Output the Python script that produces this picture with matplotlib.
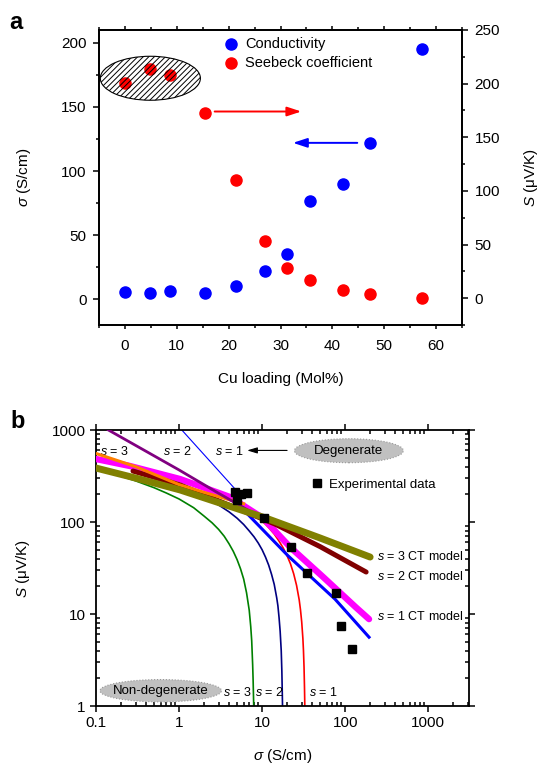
import matplotlib
matplotlib.use('Agg')
import matplotlib.pyplot as plt
from matplotlib.patches import Ellipse
from matplotlib.ticker import MultipleLocator, LogLocator, NullFormatter, FuncFormatter

plt.rcParams['font.family'] = ['Liberation Sans', 'DejaVu Sans']
plt.rcParams['mathtext.fontset'] = 'custom'
plt.rcParams['mathtext.it'] = 'Liberation Sans:italic'
plt.rcParams['mathtext.rm'] = 'Liberation Sans'
plt.rcParams['hatch.linewidth'] = 0.7

# ---- panel a data ----
cu_loading = [0, 4.75, 8.6, 15.4, 21.4, 27, 31.2, 35.6, 42.1, 47.3, 57.3]
conductivity = [5.5, 4.7, 6.5, 5.0, 10.5, 22, 35, 77, 90, 122, 195]
seebeck = [200.5, 214, 208, 173, 110.5, 53, 28, 17, 7.5, 4.2, 0]

# ---- panel b model curves (sigma in S/cm, S in uV/K) ----
nd3_sigma = [0.1, 0.15, 0.2, 0.3, 0.5, 0.7, 1, 1.5, 2, 2.5, 3, 3.5, 4, 4.5, 5,
             5.5, 6, 6.5, 7, 7.3, 7.5, 7.7, 7.8, 7.9, 7.93]
nd3_S = [372, 340, 315, 280, 236, 207, 178, 143, 116, 98, 83, 70, 58, 48, 39,
         31, 24, 17, 11, 7.3, 5.1, 2.8, 1.9, 1.15, 1.0]
nd2_sigma = [2, 3, 4, 5, 6, 7, 8, 9, 10, 11, 12, 13, 14, 15, 15.5, 16, 16.5,
             17, 17.3, 17.5, 17.62]
nd2_S = [188, 153, 129, 110, 94, 80, 69, 59, 50, 41.5, 34, 27, 21, 15, 12.3,
         9.2, 6.5, 4.0, 2.4, 1.4, 1.0]
nd1_sigma = [8, 10, 12, 14, 16, 18, 20, 22, 24, 26, 28, 29, 30, 31, 31.5, 32,
             32.4, 32.7]
nd1_S = [122, 103, 87, 74, 62, 52, 43, 35, 27.4, 20.5, 14.2, 11.1, 8.2, 5.4,
         4.0, 2.65, 1.6, 1.0]

deg1_sigma = [1.08, 2, 3, 4, 5, 6]
deg1_S = [1000, 540, 360, 270, 216, 180]
deg2_sigma = [0.141, 1, 3, 10]
deg2_S = [1000, 368, 205, 110]
deg3_sigma = [0.1, 0.3, 1, 2, 4, 6]
deg3_S = [556, 400, 255, 210, 175, 158]

ct1_sigma = [0.1, 0.257, 1.03, 4.11, 10.3, 21.7, 54.2, 135, 194]
ct1_S = [484, 406, 293, 187, 110, 53.5, 25.3, 11.8, 8.8]
ct1b_sigma = [6, 20.5, 75.6, 194]
ct1b_S = [135, 43, 14.5, 5.6]
ct2_sigma = [0.279, 1.03, 3.58, 14.3, 50, 179]
ct2_S = [358, 253, 159, 95, 54, 28.6]
ct3_sigma = [0.1, 0.32, 1.03, 3.3, 11.2, 50, 200]
ct3_S = [386, 296, 223, 158, 110, 67, 41.6]

fig = plt.figure(figsize=(5.39, 7.65), dpi=100)

# ================= panel a =================
ax = fig.add_axes([0.1837, 0.5752, 0.6735, 0.3856])
ax2 = ax.twinx()

hb = ax.scatter(cu_loading, conductivity, s=64, color='#0000ff', zorder=3,
                label='Conductivity')
hr = ax2.scatter(cu_loading, seebeck, s=64, color='#ff0000', zorder=3,
                 label='Seebeck coefficient')

ax.set_xlim(-5, 65)
ax.set_ylim(-20, 210)
ax2.set_ylim(-25, 250)
ax.xaxis.set_major_locator(MultipleLocator(10))
ax.xaxis.set_minor_locator(MultipleLocator(5))
ax.yaxis.set_major_locator(MultipleLocator(50))
ax.yaxis.set_minor_locator(MultipleLocator(25))
ax2.yaxis.set_major_locator(MultipleLocator(50))
ax2.yaxis.set_minor_locator(MultipleLocator(25))

ax.tick_params(which='both', direction='out', labelsize=11, width=1.1, top=True, pad=5)
ax.tick_params(which='major', length=4)
ax.tick_params(which='minor', length=2.5)
ax.tick_params(axis='x', which='major', top=True, length=3, pad=7)
ax2.tick_params(which='both', direction='out', labelsize=11, width=1.1, pad=5)
ax2.tick_params(which='major', length=4)
ax2.tick_params(which='minor', length=2.5)
for a in (ax, ax2):
    for sp in a.spines.values():
        sp.set_linewidth(1.3)

ax.set_xlabel('Cu loading (Mol%)', fontsize=11, labelpad=14)
ax.set_ylabel(r'$\sigma$ (S/cm)', fontsize=11, labelpad=20)
ax2.set_ylabel(r'$S$ ($\mathrm{\mu}$V/K)', fontsize=11, rotation=90, labelpad=16)

ell = Ellipse((4.9, 205), 19.3, 41, facecolor='none', edgecolor='black',
              hatch='//////', lw=0.8, zorder=4)
ax2.add_patch(ell)

ax2.annotate('', xy=(34, 174), xytext=(17.3, 174),
             arrowprops=dict(arrowstyle='-|>,head_length=0.85,head_width=0.28',
                             color='#ff0000', lw=1.4, shrinkA=0, shrinkB=0))
ax.annotate('', xy=(32.4, 122), xytext=(44.8, 122),
            arrowprops=dict(arrowstyle='-|>,head_length=0.85,head_width=0.28',
                            color='#0000ff', lw=1.4, shrinkA=0, shrinkB=0))

ax2.legend(handles=[hb, hr], loc='upper left', bbox_to_anchor=(0.343, 0.977),
           frameon=False, fontsize=10.5, handlelength=1.0, handletextpad=0.5,
           labelspacing=0.35, borderpad=0, borderaxespad=0, scatterpoints=1)

fig.text(0.03, 0.962, 'a', fontsize=17, fontweight='bold', ha='center', va='baseline')

# ================= panel b =================
bx = fig.add_axes([0.1781, 0.0771, 0.692, 0.3608])
bx.set_xscale('log')
bx.set_yscale('log')

bx.plot(nd3_sigma, nd3_S, color='#008000', lw=1.2, zorder=2)
bx.plot(nd2_sigma, nd2_S, color='#000080', lw=1.2, zorder=2)
bx.plot(nd1_sigma, nd1_S, color='#ff0000', lw=1.2, zorder=2)
bx.plot(deg1_sigma, deg1_S, color='#0000ff', lw=0.8, zorder=2)
bx.plot(ct1b_sigma, ct1b_S, color='#0000ff', lw=2.2, zorder=3)
bx.plot(ct1_sigma, ct1_S, color='#ff00ff', lw=4.6, zorder=4, solid_capstyle='round')
bx.plot(ct2_sigma, ct2_S, color='#800000', lw=3.6, zorder=5, solid_capstyle='round')
bx.plot(deg3_sigma, deg3_S, color='#ff8000', lw=2.2, zorder=5)
bx.plot(deg2_sigma, deg2_S, color='#800080', lw=2.0, zorder=5)
bx.plot(ct3_sigma, ct3_S, color='#808000', lw=5.0, zorder=6, solid_capstyle='round')

sq, = bx.plot(conductivity[:10], seebeck[:10], 's', color='black', ms=6,
              zorder=8, label='Experimental data')

bx.set_xlim(0.1, 3100)
bx.set_ylim(1, 1000)
fmt = FuncFormatter(lambda v, p: '%g' % v)
bx.xaxis.set_major_formatter(fmt)
bx.yaxis.set_major_formatter(fmt)
bx.xaxis.set_major_locator(LogLocator(base=10, numticks=10))
bx.yaxis.set_major_locator(LogLocator(base=10, numticks=10))
bx.xaxis.set_minor_locator(LogLocator(base=10, subs=range(2, 10), numticks=20))
bx.yaxis.set_minor_locator(LogLocator(base=10, subs=range(2, 10), numticks=20))
bx.xaxis.set_minor_formatter(NullFormatter())
bx.yaxis.set_minor_formatter(NullFormatter())
bx.tick_params(which='both', top=True, right=True, labelsize=11, width=1.1)
bx.tick_params(which='major', direction='out', length=4)
bx.tick_params(which='minor', direction='in', length=2.8)
for sp in bx.spines.values():
    sp.set_linewidth(1.3)

bx.set_xlabel(r'$\sigma$ (S/cm)', fontsize=11, labelpad=12)
bx.set_ylabel(r'$S$ ($\mathrm{\mu}$V/K)', fontsize=11, labelpad=14)

fs = 9
bx.text(0.112, 590, '$s$ = 3', fontsize=fs, ha='left', va='center')
bx.text(0.642, 590, '$s$ = 2', fontsize=fs, ha='left', va='center')
bx.text(2.71, 590, '$s$ = 1', fontsize=fs, ha='left', va='center')
bx.annotate('', xy=(6.6, 600), xytext=(20, 600),
            arrowprops=dict(arrowstyle='-|>,head_length=0.6,head_width=0.18',
                            color='black', lw=0.8, shrinkA=0, shrinkB=0))

bx.add_patch(Ellipse((0.678, 0.925), 0.292, 0.087, transform=bx.transAxes,
                     facecolor='#c0c0c0', edgecolor='#999999', ls=':', lw=0.8, zorder=7))
bx.text(0.678, 0.925, 'Degenerate', transform=bx.transAxes, fontsize=9.5,
        ha='center', va='center', zorder=8)
bx.add_patch(Ellipse((0.1735, 0.0554), 0.326, 0.081, transform=bx.transAxes,
                     facecolor='#c0c0c0', edgecolor='#999999', ls=':', lw=0.8, zorder=7))
bx.text(0.1735, 0.0554, 'Non-degenerate', transform=bx.transAxes, fontsize=9.5,
        ha='center', va='center', zorder=8)

bx.text(3.39, 1.4, '$s$ = 3', fontsize=fs, ha='left', va='center')
bx.text(8.26, 1.4, '$s$ = 2', fontsize=fs, ha='left', va='center')
bx.text(37.2, 1.4, '$s$ = 1', fontsize=fs, ha='left', va='center')

bx.text(241, 42, '$s$ = 3 CT model', fontsize=fs, ha='left', va='center')
bx.text(241, 25.4, '$s$ = 2 CT model', fontsize=fs, ha='left', va='center')
bx.text(241, 9.5, '$s$ = 1 CT model', fontsize=fs, ha='left', va='center')

bx.legend(handles=[sq], loc='center left', bbox_to_anchor=(0.574, 0.801),
          frameon=False, fontsize=9.5, handlelength=1.0, handletextpad=0.4,
          borderpad=0, borderaxespad=0, numpoints=1)

fig.text(0.033, 0.4405, 'b', fontsize=17, fontweight='bold', ha='center', va='baseline')

fig.savefig('out.png', dpi=100)
